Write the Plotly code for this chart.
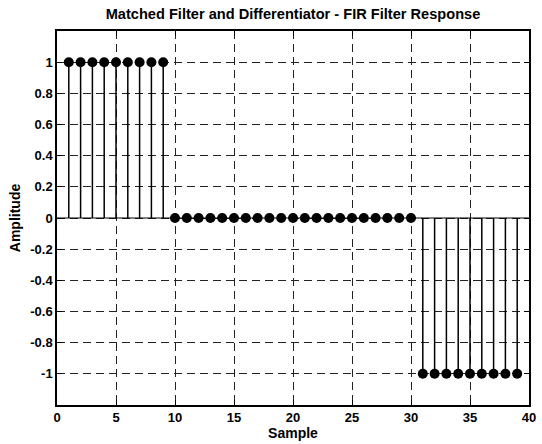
import plotly.graph_objects as go

# Impulse response samples of the FIR filter
samples = list(range(1, 40))
amplitude = [1] * 9 + [0] * 21 + [-1] * 9

x_ticks = [0, 5, 10, 15, 20, 25, 30, 35, 40]
y_ticks = [-1, -0.8, -0.6, -0.4, -0.2, 0, 0.2, 0.4, 0.6, 0.8, 1]
y_tick_text = ["-1", "-0.8", "-0.6", "-0.4", "-0.2", "0", "0.2", "0.4", "0.6", "0.8", "1"]

# stem lines: one vertical segment per sample, from 0 to its amplitude
stem_x, stem_y = [], []
for s, a in zip(samples, amplitude):
    stem_x += [s, s, None]
    stem_y += [0, a, None]

fig = go.Figure()
fig.add_trace(go.Scatter(x=stem_x, y=stem_y, mode="lines",
                         line=dict(color="black", width=1.5),
                         hoverinfo="skip", showlegend=False))
fig.add_trace(go.Scatter(x=samples, y=amplitude, mode="markers",
                         marker=dict(color="black", size=10),
                         showlegend=False))

# baseline at zero
fig.add_shape(type="line", xref="x domain", yref="y", x0=0, x1=1, y0=0, y1=0,
              line=dict(color="black", width=1.2))

axis_common = dict(showline=True, linecolor="black", linewidth=1.5, mirror="ticks",
                   ticks="inside", ticklen=5, tickcolor="black", tickwidth=1,
                   showgrid=True, gridcolor="#222", gridwidth=1, griddash="8px,5px",
                   zeroline=False, tickfont=dict(size=13))

fig.update_xaxes(range=[0, 40], tickvals=x_ticks,
                 title=dict(text="Sample", standoff=0, font=dict(size=14)),
                 **axis_common)
fig.update_yaxes(range=[-1.2, 1.2], tickvals=y_ticks, ticktext=y_tick_text,
                 title=dict(text="Amplitude", standoff=6, font=dict(size=14)),
                 **axis_common)

fig.update_layout(
    width=542, height=444,
    margin=dict(l=57, r=6, t=31, b=39),
    paper_bgcolor="white", plot_bgcolor="white",
    font=dict(family="Liberation Sans, Arial, sans-serif", color="black", size=13, weight="bold"),
    title=dict(text="Matched Filter and Differentiator - FIR Filter Response",
               x=0.5, xanchor="center", y=0.968, yanchor="middle",
               xref="paper", font=dict(size=14.6, weight="bold")),
)

fig.write_html("out.html")
